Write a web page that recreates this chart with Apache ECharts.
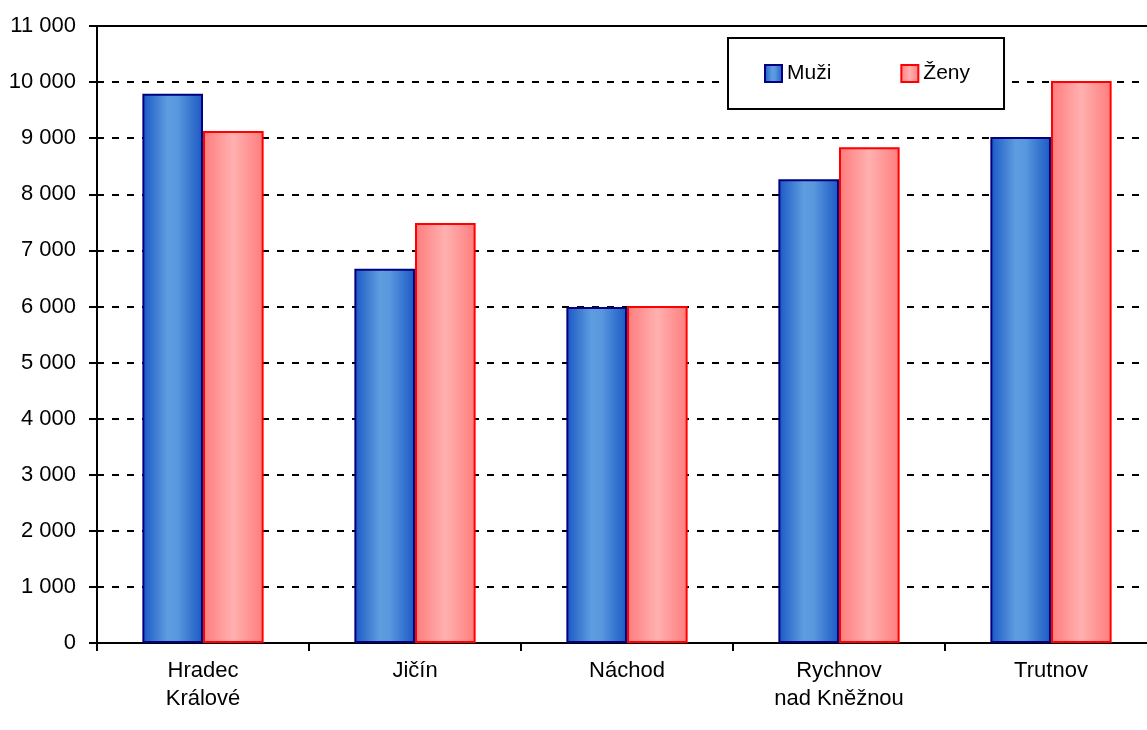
<!DOCTYPE html>
<html>
<head>
<meta charset="utf-8">
<script src="https://cdn.jsdelivr.net/npm/echarts@6/dist/echarts.min.js"></script>
<style>html,body{margin:0;padding:0;background:#fff;overflow:hidden}#c{width:1157px;height:730px}</style>
</head>
<body>
<div id="c"></div>
<script>
const categories = ['Hradec\nKrálové', 'Jičín', 'Náchod', 'Rychnov\nnad Kněžnou', 'Trutnov'];
const muzi = [9790, 6670, 5990, 8270, 9020];
const zeny = [9130, 7490, 6010, 8840, 10020];
const seriesNames = ['Muži', 'Ženy'];

const blueGrad = new echarts.graphic.LinearGradient(0, 0, 1, 0, [
  {offset: 0, color: '#1a58c4'}, {offset: 0.42, color: '#5f9de0'}, {offset: 0.58, color: '#5a98de'}, {offset: 1, color: '#1a58c4'}]);
const redGrad = new echarts.graphic.LinearGradient(0, 0, 1, 0, [
  {offset: 0, color: '#ff7c7c'}, {offset: 0.5, color: '#ffb0b0'}, {offset: 1, color: '#ff7c7c'}]);

const chart = echarts.init(document.getElementById('c'), null, {renderer: 'canvas'});
const fontFamily = 'Liberation Sans, Arial, sans-serif';
chart.setOption({
  animation: false,
  textStyle: {fontFamily: fontFamily},
  grid: {left: 97, top: 26, bottom: 87, right: 0, containLabel: false},
  legend: {
    left: 728, top: 38,
    orient: 'horizontal',
    backgroundColor: '#fff',
    borderColor: '#000', borderWidth: 2,
    padding: [25, 34, 25, 36],
    itemWidth: 17, itemHeight: 17, itemGap: 69,
    textStyle: {fontSize: 21, color: '#000', fontFamily: fontFamily},
    data: [
      {name: seriesNames[0], icon: 'rect', itemStyle: {color: blueGrad, borderColor: '#000080', borderWidth: 2}},
      {name: seriesNames[1], icon: 'rect', itemStyle: {color: redGrad, borderColor: '#ff0000', borderWidth: 2}}
    ]
  },
  xAxis: {
    type: 'category', data: categories,
    axisLine: {lineStyle: {color: '#000', width: 2}},
    axisTick: {show: true, length: 8, lineStyle: {color: '#000', width: 2}, interval: 0},
    axisLabel: {fontSize: 22, color: '#000', margin: 14, lineHeight: 28, interval: 0}
  },
  yAxis: {
    type: 'value', min: 0, max: 11000, interval: 1000,
    axisLine: {show: true, lineStyle: {color: '#000', width: 2}},
    axisTick: {show: true, length: 8, lineStyle: {color: '#000', width: 2}},
    axisLabel: {fontSize: 22, color: '#000', margin: 21,
      formatter: v => String(v).replace(/\B(?=(\d{3})+(?!\d))/g, ' ')},
    splitLine: {show: true, lineStyle: {color: '#000', width: 2, type: [7, 8]}}
  },
  series: [
    {
      name: seriesNames[0], type: 'bar', data: muzi, barWidth: '28.6%', barGap: '0%',
      itemStyle: {color: blueGrad, borderColor: '#000080', borderWidth: 2},
      markLine: {silent: true, symbol: 'none', label: {show: false},
        lineStyle: {color: '#000', width: 2, type: 'solid'}, data: [{yAxis: 11000}]}
    },
    {
      name: seriesNames[1], type: 'bar', data: zeny, barWidth: '28.6%', barGap: '0%',
      itemStyle: {color: redGrad, borderColor: '#ff0000', borderWidth: 2}
    }
  ]
});
</script>
</body>
</html>
